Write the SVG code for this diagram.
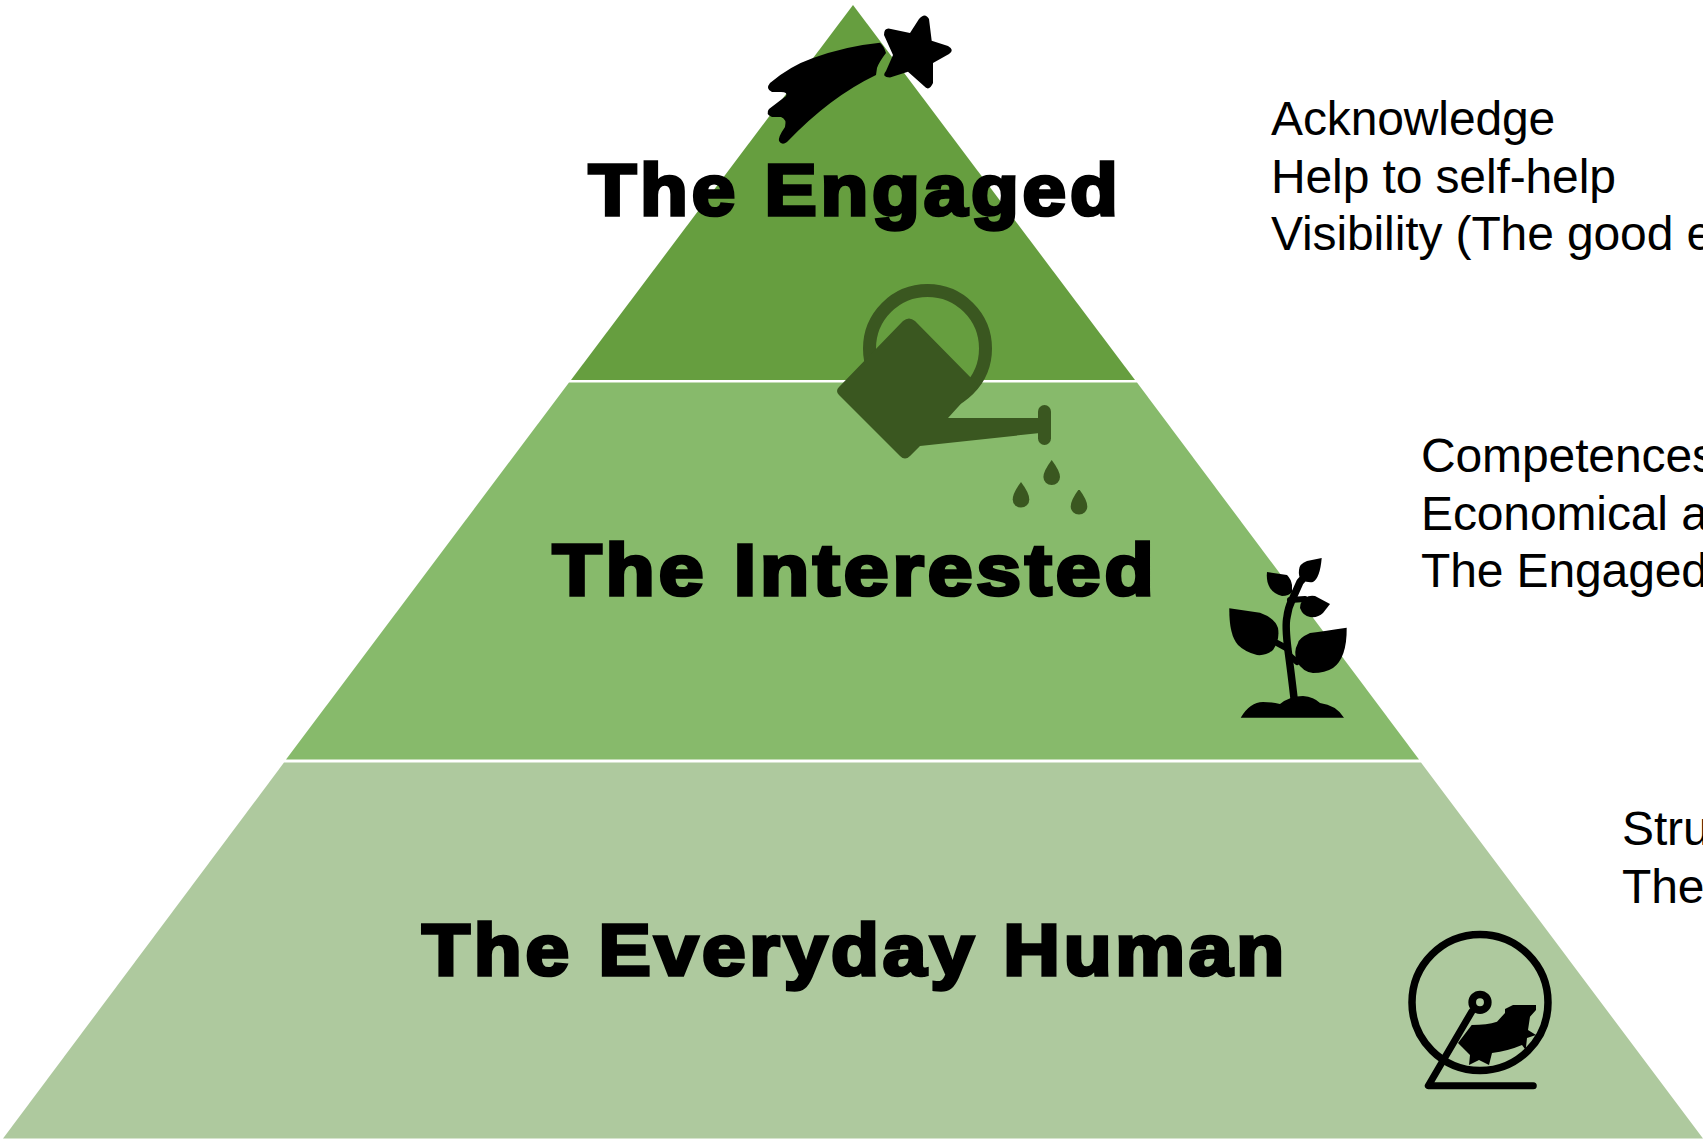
<svg xmlns="http://www.w3.org/2000/svg" width="1703" height="1139" viewBox="0 0 1703 1139">
<style>
.t{font-family:"Liberation Sans",Arial,sans-serif;font-size:48px;fill:#000;letter-spacing:-0.12px}
.h{font-family:"Liberation Sans",Arial,sans-serif;font-size:72px;font-weight:700;fill:#000;stroke:#000;stroke-width:3.500px;text-anchor:middle;letter-spacing:3.500px}
.d{fill:#3a5720}
.s{fill:none;stroke:#000;stroke-linecap:round;stroke-linejoin:round}
</style>
<rect width="1703" height="1139" fill="#fff"/>
<g id="tier-engaged">
<path d="M853 5L1135 380H571Z" fill="#669e3f"/>
</g>
<g id="tier-interested">
<path d="M569 382.500H1137L1419 759.500H286Z" fill="#87ba6b"/>
</g>
<g id="tier-everyday">
<path d="M284 762.500H1421L1703 1138.500H3Z" fill="#aec99e"/>
</g>
<g id="star-icon" fill="#000">
<path d="M910 33L919 19Q925 12 929 19L931.700 40.700L948 46Q955 50 949 54L933 63L933 83Q929 92 924 86L908 71.700L890 77.500Q881 77 886 71L893 55L884 35Q884 27 891 29Z"/>
<path d="M880 42.700Q884 46 886 53Q879 62 877 68L876 75Q830 97 787 142Q782 146 779 141Q778 137 785 127Q787 119 781 117L772 117Q765 114 769 109L786 96Q788 92 781 92L772 92Q765 89 770 83Q790 66 813 58Q846 46 880 42.700Z"/>
</g>
<g id="can-icon" class="d">
<circle cx="927.500" cy="348.500" r="58" fill="none" stroke="#3a5720" stroke-width="13"/>
<path d="M903 321Q909 316 915 321L978 385L948 418H1040V433L920 446L910 456Q905 461 900 456L839 395Q835 391 839 387Z"/>
<rect x="1038" y="405" width="13" height="40" rx="6.500"/>
<path d="M1051.700 460q-8.300 11-8.300 17a8.300 8 0 0 0 16.600 0q0-6-8.300-17Z"/>
<path d="M1021 482q-8.300 11-8.300 17.500a8.300 8 0 0 0 16.600 0q0-6.500-8.300-17.500Z"/>
<path d="M1079 489q-8.300 11-8.300 17.500a8.300 8 0 0 0 16.600 0q0-6.500-8.300-17.500Z"/>
</g>
<g id="plant-icon" fill="#000">
<path d="M1240.700 717.700Q1250 702 1263 702Q1273 702 1280 704Q1290 696 1303 696Q1314 697 1320 703Q1336 705 1344 717.700Z"/>
<path class="s" stroke-width="7.500" d="M1294 698Q1291 672 1288 650Q1285 625 1287 617Q1288 608 1292 600L1300 582L1308 573"/>
<path class="s" stroke-width="6" d="M1277 643L1288 649M1297 662L1289 655M1290 600L1305 599"/>
<path d="M1229.300 608.300L1260 612.700Q1275 618 1278 628Q1280 640 1273 650Q1266 656 1257 655Q1245 652 1238 645Q1229 635 1229.300 608.300Z"/>
<path d="M1346.700 627.700Q1325 631 1310 633Q1299 638 1298 643Q1293 652 1297 662Q1303 672 1313 673Q1325 673 1333 668Q1347 658 1346.700 627.700Z"/>
<path d="M1267 572L1287 575Q1291 579 1292 585V592Q1289 596 1282 596Q1274 594 1270 588Q1266 582 1267 572Z"/>
<path d="M1321.700 558L1307 561Q1299 564 1299 570Q1298 577 1302 580Q1308 583 1313 582Q1320 578 1321.700 558Z"/>
<path d="M1330 604L1315 596Q1309 595 1305 598Q1300 602 1300 608Q1303 616 1310 617Q1318 618 1323 613Z"/>
</g>
<g id="wheel-icon" fill="#000">
<circle cx="1480" cy="1002.500" r="68" fill="none" stroke="#000" stroke-width="7.500"/>
<circle cx="1480" cy="1002.300" r="7.800" fill="none" stroke="#000" stroke-width="7.700"/>
<path class="s" stroke-width="7" d="M1471.700 1011.700L1428.300 1085.700H1533.300"/>
<path d="M1536 1005L1513 1005L1505 1009V1013L1497 1021.700Q1487 1025 1471.700 1025L1458 1043L1470 1055L1469 1065L1479 1060L1489 1065L1492 1053Q1508 1051 1522 1045L1525.700 1050L1527 1038L1536 1035L1528 1030L1530 1016.700L1536 1010Z"/>
</g>
<g id="tier-labels">
<text class="h" x="855" y="215" textLength="533" lengthAdjust="spacingAndGlyphs">The Engaged</text>
<text class="h" x="855" y="595" textLength="605" lengthAdjust="spacingAndGlyphs">The Interested</text>
<text class="h" x="855" y="975" textLength="866" lengthAdjust="spacingAndGlyphs">The Everyday Human</text>
</g>
<g id="tier-notes">
<text class="t" x="1271" y="135">Acknowledge</text>
<text class="t" x="1271" y="193">Help to self-help</text>
<text class="t" x="1271" y="250">Visibility (The good e</text>
<text class="t" x="1421" y="472">Competences</text>
<text class="t" x="1421" y="530">Economical a</text>
<text class="t" x="1421" y="587">The Engaged</text>
<text class="t" x="1622" y="845">Stru</text>
<text class="t" x="1622" y="903">The</text>
</g>
</svg>
